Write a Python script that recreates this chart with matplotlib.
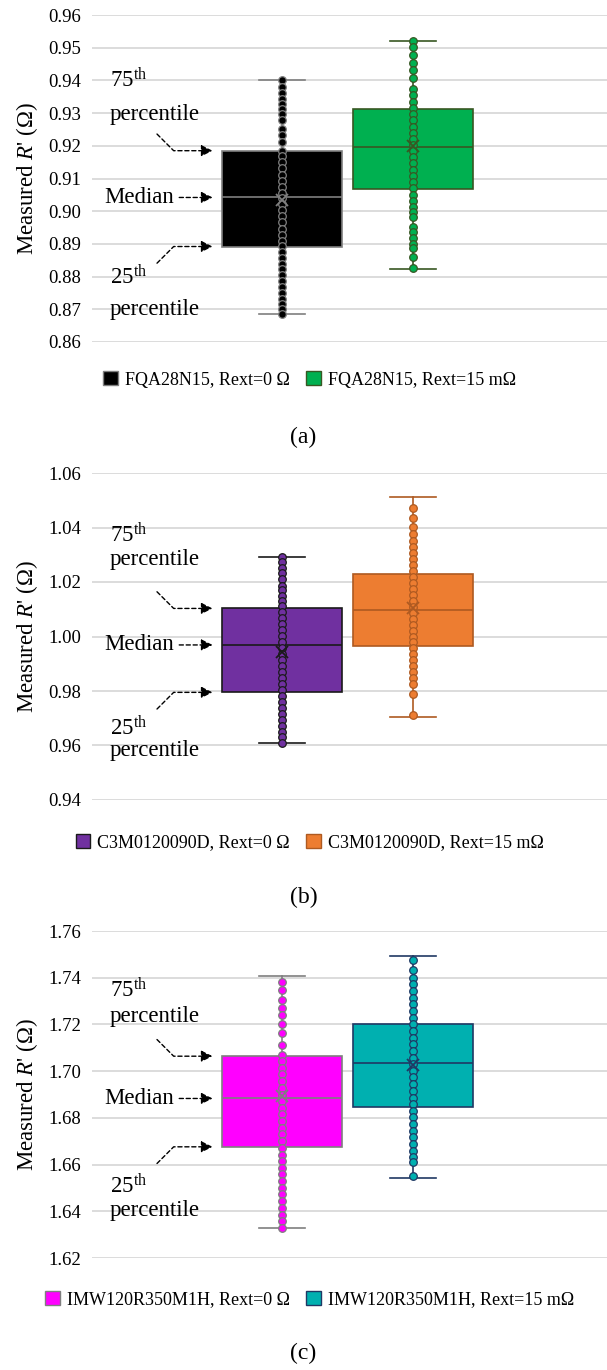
import matplotlib
matplotlib.use("Agg")
import matplotlib.pyplot as plt
from matplotlib.patches import Patch
from matplotlib.ticker import MultipleLocator, FormatStrFormatter

plt.rcParams["font.family"] = ["Liberation Serif", "DejaVu Serif"]
plt.rcParams["mathtext.fontset"] = "custom"
plt.rcParams["mathtext.rm"] = "Liberation Serif"
plt.rcParams["mathtext.it"] = "Liberation Serif:italic"

# ── Data ──────────────────────────────────────────────────────────────────────
# (a) FQA28N15
fqa_0_pts = [0.9400, 0.9380, 0.9361, 0.9344, 0.9329, 0.9314, 0.9298, 0.9278,
             0.9252, 0.9232, 0.9211, 0.9185, 0.9170, 0.9150, 0.9131, 0.9112,
             0.9093, 0.9074, 0.9055, 0.9040, 0.9022, 0.9003, 0.8985, 0.8966,
             0.8947, 0.8928, 0.8908, 0.8893, 0.8876, 0.8858, 0.8840, 0.8822,
             0.8804, 0.8786, 0.8769, 0.8751, 0.8733, 0.8716, 0.8700, 0.8686]
fqa_15_pts = [0.9520, 0.9501, 0.9477, 0.9452, 0.9431, 0.9406, 0.9373, 0.9354,
              0.9335, 0.9316, 0.9297, 0.9278, 0.9259, 0.9240, 0.9221, 0.9202,
              0.9184, 0.9165, 0.9146, 0.9127, 0.9108, 0.9089, 0.9070, 0.9051,
              0.9032, 0.9013, 0.8997, 0.8983, 0.8952, 0.8935, 0.8918, 0.8901,
              0.8886, 0.8860, 0.8825]
# box stats: [q1, median, q3, whisker low, whisker high, mean]
fqa_0_box = [0.8892, 0.9042, 0.9185, 0.8686, 0.9401, 0.9034]
fqa_15_box = [0.9069, 0.9197, 0.9312, 0.8822, 0.9520, 0.9200]

# (b) C3M0120090D
c3m_0_pts = [1.0291, 1.0272, 1.0253, 1.0233, 1.0211, 1.0187, 1.0169, 1.0150,
             1.0132, 1.0111, 1.0090, 1.0068, 1.0046, 1.0024, 1.0002, 0.9980,
             0.9958, 0.9936, 0.9914, 0.9892, 0.9870, 0.9848, 0.9826, 0.9804,
             0.9782, 0.9760, 0.9738, 0.9716, 0.9694, 0.9672, 0.9650, 0.9630,
             0.9608]
c3m_15_pts = [1.0473, 1.0435, 1.0403, 1.0375, 1.0352, 1.0330, 1.0308, 1.0286,
              1.0264, 1.0242, 1.0220, 1.0198, 1.0176, 1.0154, 1.0132, 1.0110,
              1.0088, 1.0066, 1.0044, 1.0022, 1.0000, 0.9978, 0.9956, 0.9934,
              0.9912, 0.9890, 0.9868, 0.9846, 0.9824, 0.9789, 0.9712]
c3m_0_box = [0.9795, 0.9969, 1.0103, 0.9608, 1.0291, 0.9944]
c3m_15_box = [0.9966, 1.0097, 1.0229, 0.9705, 1.0511, 1.0105]

# (c) IMW120R350M1H
imw_0_pts = [1.7382, 1.7346, 1.7306, 1.7270, 1.7239, 1.7203, 1.7163, 1.7114,
             1.7071, 1.7043, 1.7014, 1.6986, 1.6957, 1.6929, 1.6900, 1.6872,
             1.6843, 1.6815, 1.6786, 1.6758, 1.6729, 1.6700, 1.6672, 1.6643,
             1.6615, 1.6586, 1.6558, 1.6529, 1.6500, 1.6472, 1.6443, 1.6415,
             1.6386, 1.6357, 1.6327]
imw_15_pts = [1.7476, 1.7434, 1.7400, 1.7372, 1.7343, 1.7315, 1.7286, 1.7258,
              1.7229, 1.7201, 1.7172, 1.7144, 1.7115, 1.7087, 1.7058, 1.7030,
              1.7001, 1.6973, 1.6944, 1.6916, 1.6887, 1.6859, 1.6830, 1.6802,
              1.6773, 1.6745, 1.6716, 1.6688, 1.6659, 1.6631, 1.6610, 1.6551]
imw_0_box = [1.6676, 1.6883, 1.7064, 1.6327, 1.7408, 1.6893]
imw_15_box = [1.6846, 1.7035, 1.7203, 1.6544, 1.7495, 1.7028]

labels_a = ["FQA28N15, Rext=0 Ω", "FQA28N15, Rext=15 mΩ"]
labels_b = ["C3M0120090D, Rext=0 Ω", "C3M0120090D, Rext=15 mΩ"]
labels_c = ["IMW120R350M1H, Rext=0 Ω", "IMW120R350M1H, Rext=15 mΩ"]

ylims = [(0.86, 0.96), (0.94, 1.06), (1.62, 1.76)]
ysteps = [0.01, 0.02, 0.02]

# (fill, edge) per series
colors_a = [("#000000", "#7f7f7f"), ("#00b050", "#385723")]
colors_b = [("#7030a0", "#1a1a1a"), ("#ed7d31", "#ae5a21")]
colors_c = [("#ff00ff", "#7f7f7f"), ("#00b0b0", "#203864")]

# text y positions (axes fraction): 75th, percentile, 25th, percentile
note_y = [(0.80, 0.695, 0.20, 0.10),
          (0.81, 0.735, 0.22, 0.15),
          (0.82, 0.74, 0.22, 0.145)]

# ── Layout (figure px) ───────────────────────────────────────────────────────
W, H = 607, 1370
ax_top = [15, 473, 931]
ax_h = 327
ax_left = 92
legend_y = [380, 843, 1300]
caption_y = [437, 897, 1353]
captions = ["(a)", "(b)", "(c)"]

fig = plt.figure(figsize=(W / 100, H / 100), dpi=100)


def draw_panel(i, pts_list, box_list, colors, labels):
    ax = fig.add_axes([ax_left / W, 1 - (ax_top[i] + ax_h) / H,
                       1 - ax_left / W, ax_h / H])
    positions = [1, 2]
    for pos, pts, box, (fc, ec) in zip(positions, pts_list, box_list, colors):
        q1, med, q3, lo, hi, mean = box
        stats = [dict(q1=q1, med=med, q3=q3, whislo=lo, whishi=hi,
                      mean=mean, fliers=[])]
        ax.bxp(stats, positions=[pos], widths=0.92, capwidths=0.35,
               patch_artist=True, showmeans=True, showfliers=False,
               boxprops=dict(facecolor=fc, edgecolor=ec, linewidth=1.2),
               medianprops=dict(color=ec, linewidth=1.2),
               whiskerprops=dict(color=ec, linewidth=1.2),
               capprops=dict(color=ec, linewidth=1.2),
               meanprops=dict(marker="x", markeredgecolor=ec,
                              markersize=9, markeredgewidth=1.3, zorder=5))
        ax.scatter([pos] * len(pts), pts, s=30, c=fc, edgecolors=ec,
                   linewidths=0.9, zorder=4)

    ax.set_xlim(-0.45, 3.48)
    ax.set_ylim(*ylims[i])
    ax.yaxis.set_major_locator(MultipleLocator(ysteps[i]))
    ax.yaxis.set_major_formatter(FormatStrFormatter("%.2f"))
    ax.set_xticks([])
    ax.yaxis.grid(True, color="#d9d9d9", linewidth=1.3)
    ax.set_axisbelow(True)
    for s in ax.spines.values():
        s.set_visible(False)
    ax.tick_params(axis="y", length=0, pad=8, labelsize=13.5)
    ax.set_ylabel("Measured $\\mathit{R}$' (Ω)", fontsize=16.5, labelpad=6)

    # annotations pointing at the first box
    q1, med, q3 = box_list[0][:3]
    tip = 1 - 0.46 - 0.07
    ny = note_y[i]
    fs = 16.5
    ax.text(0.035, ny[0], "75$^{\\mathrm{th}}$", transform=ax.transAxes,
            fontsize=fs, va="center", ha="left")
    ax.text(0.035, ny[1], "percentile", transform=ax.transAxes,
            fontsize=fs, va="center", ha="left")
    ax.text(0.035, ny[2], "25$^{\\mathrm{th}}$", transform=ax.transAxes,
            fontsize=fs, va="center", ha="left")
    ax.text(0.035, ny[3], "percentile", transform=ax.transAxes,
            fontsize=fs, va="center", ha="left")
    aprops = dict(arrowstyle="-|>", linestyle=(0, (3, 2)), color="black",
                  linewidth=1.0, mutation_scale=17, shrinkA=0, shrinkB=0)
    ax.annotate("", xy=(tip, q3), xytext=(-40, 12), textcoords="offset points",
                arrowprops=dict(connectionstyle="angle,angleA=-45,angleB=180,rad=0",
                                **aprops))
    ax.annotate("", xy=(tip, q1), xytext=(-40, -12), textcoords="offset points",
                arrowprops=dict(connectionstyle="angle,angleA=45,angleB=180,rad=0",
                                **aprops))
    ax.annotate("Median", xy=(tip, med), xytext=(-28, 0),
                textcoords="offset points", fontsize=fs, ha="right",
                va="center",
                arrowprops=dict(shrinkA=2, **{k: v for k, v in aprops.items()
                                              if k != "shrinkA"}))

    handles = [Patch(facecolor=fc, edgecolor=ec, linewidth=1.0)
               for fc, ec in colors]
    fig.legend(handles, labels, loc="center",
               bbox_to_anchor=(0.51, 1 - legend_y[i] / H), ncol=2,
               frameon=False, fontsize=13, handlelength=0.8,
               handleheight=0.8, handletextpad=0.4, columnspacing=0.9)
    fig.text(0.5, 1 - caption_y[i] / H, captions[i], fontsize=17,
             ha="center", va="center")
    return ax


draw_panel(0, [fqa_0_pts, fqa_15_pts], [fqa_0_box, fqa_15_box], colors_a, labels_a)
draw_panel(1, [c3m_0_pts, c3m_15_pts], [c3m_0_box, c3m_15_box], colors_b, labels_b)
draw_panel(2, [imw_0_pts, imw_15_pts], [imw_0_box, imw_15_box], colors_c, labels_c)

fig.savefig("out.png", dpi=100)
